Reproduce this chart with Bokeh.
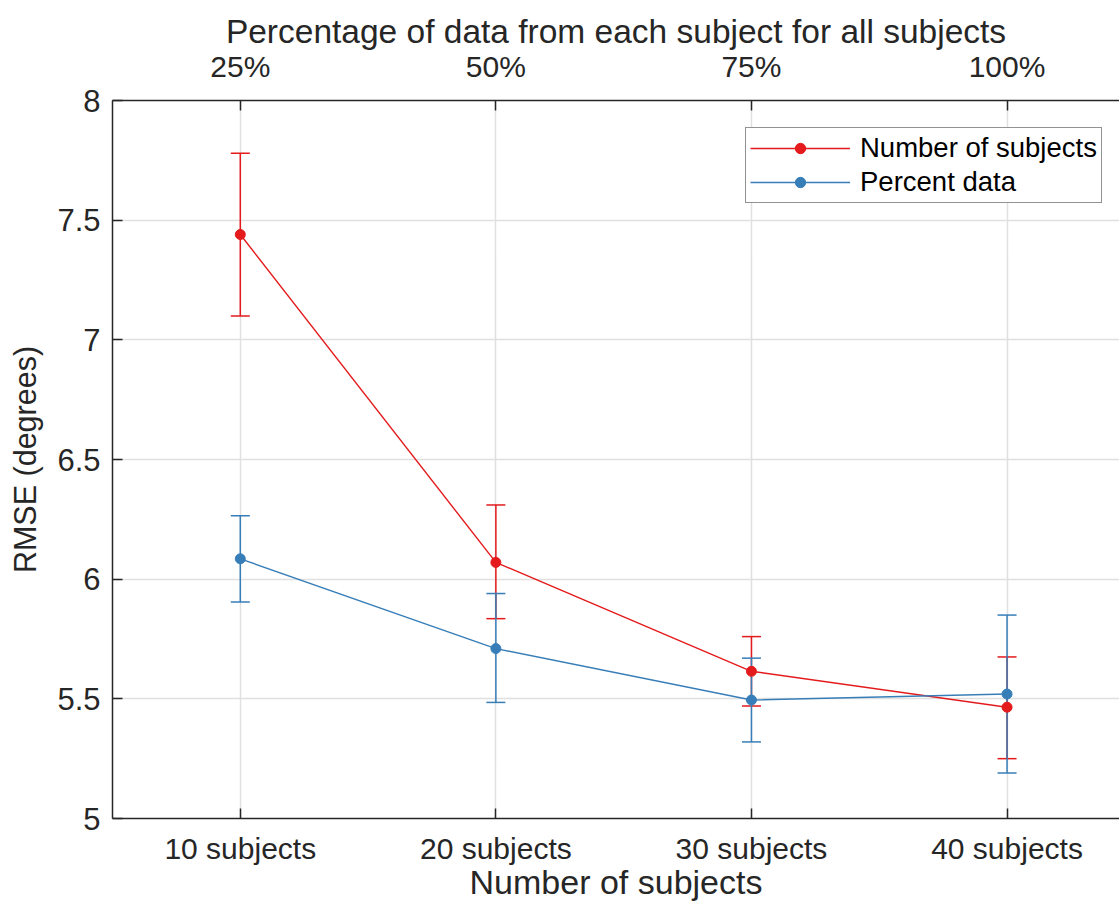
from bokeh.plotting import figure
from bokeh.models import (Range1d, LinearAxis, FixedTicker, Whisker, ColumnDataSource,
                          TeeHead, Legend, LegendItem)
from bokeh.embed import file_html
from bokeh.resources import INLINE

# ---- data ----
x_pos = [1, 2, 3, 4]
subject_labels = ["10 subjects", "20 subjects", "30 subjects", "40 subjects"]
percent_labels = ["25%", "50%", "75%", "100%"]

subj_mean = [7.44, 6.07, 5.615, 5.465]
subj_lower = [7.10, 5.835, 5.47, 5.25]
subj_upper = [7.78, 6.31, 5.76, 5.675]

pct_mean = [6.085, 5.71, 5.495, 5.52]
pct_lower = [5.905, 5.485, 5.32, 5.19]
pct_upper = [6.265, 5.94, 5.67, 5.85]

y_ticks = [5, 5.5, 6, 6.5, 7, 7.5, 8]
y_tick_labels = ["5", "5.5", "6", "6.5", "7", "7.5", "8"]

RED = "#e41a1c"
BLUE = "#377eb8"
AX = "#262626"
FONT = "Liberation Sans"

p = figure(width=1119, height=903, output_backend="svg", toolbar_location=None,
           x_range=Range1d(0.5, 4.44), y_range=Range1d(5, 8),
           min_border_left=112, min_border_top=100, min_border_bottom=85, min_border_right=0,
           x_axis_location=None, y_axis_location=None)
p.outline_line_color = None
p.background_fill_color = "white"
p.border_fill_color = "white"

def style_axis(ax, ticks, labels, label_text, label_size):
    ax.ticker = FixedTicker(ticks=ticks)
    ax.major_label_overrides = {t: l for t, l in zip(ticks, labels)}
    ax.axis_label = label_text
    ax.axis_label_text_font = FONT
    ax.axis_label_text_font_size = label_size
    ax.axis_label_text_font_style = "normal"
    ax.axis_label_text_color = AX
    ax.major_label_text_font = FONT
    ax.major_label_text_font_size = "30px"
    ax.major_label_text_color = AX
    ax.axis_line_color = AX
    ax.axis_line_width = 1.5
    ax.major_tick_line_color = AX
    ax.major_tick_line_width = 1.5
    ax.major_tick_in = 10
    ax.major_tick_out = 0
    ax.minor_tick_line_color = None

xb = LinearAxis()
style_axis(xb, x_pos, subject_labels, "Number of subjects", "34px")
xb.major_label_standoff = 13
xb.axis_label_standoff = -5
p.add_layout(xb, "below")

xt = LinearAxis()
style_axis(xt, x_pos, percent_labels, "Percentage of data from each subject for all subjects", "33.5px")
xt.major_label_standoff = 18
xt.axis_label_standoff = -3
p.add_layout(xt, "above")

yl = LinearAxis()
style_axis(yl, y_ticks, y_tick_labels, "RMSE (degrees)", "30.5px")
yl.major_label_text_font_size = "31px"
yl.major_label_standoff = 12
yl.axis_label_standoff = 12
p.add_layout(yl, "left")

p.xgrid.ticker = FixedTicker(ticks=x_pos)
p.ygrid.ticker = FixedTicker(ticks=y_ticks)
for g in (p.xgrid, p.ygrid):
    g.grid_line_color = "#e0e0e0"
    g.grid_line_width = 1.5

def series(mean, lo, hi, color):
    src = ColumnDataSource(dict(x=x_pos, y=mean, lo=lo, hi=hi))
    w = Whisker(source=src, base="x", lower="lo", upper="hi", dimension="height",
                line_color=color, line_width=1.5,
                lower_head=TeeHead(size=19, line_color=color, line_width=1.5),
                upper_head=TeeHead(size=19, line_color=color, line_width=1.5))
    p.add_layout(w)
    ln = p.line("x", "y", source=src, line_color=color, line_width=1.4)
    sc = p.scatter("x", "y", source=src, size=10, fill_color=color, line_color=color)
    return ln, sc

r_ln, r_sc = series(subj_mean, subj_lower, subj_upper, RED)
b_ln, b_sc = series(pct_mean, pct_lower, pct_upper, BLUE)

legend = Legend(items=[LegendItem(label="Number of subjects", renderers=[r_ln, r_sc]),
                       LegendItem(label="Percent data", renderers=[b_ln, b_sc])],
                location=(633, 615))
legend.label_text_font = FONT
legend.label_text_font_size = "27.5px"
legend.label_text_color = "black"
legend.glyph_width = 100
legend.glyph_height = 26
legend.label_height = 26
legend.spacing = 2
legend.padding = 4
legend.margin = 0
legend.label_standoff = 10
legend.border_line_color = AX
legend.border_line_width = 1.5
legend.background_fill_color = "white"
legend.background_fill_alpha = 1
p.add_layout(legend, "center")

open("out.html", "w").write(file_html(p, INLINE))
